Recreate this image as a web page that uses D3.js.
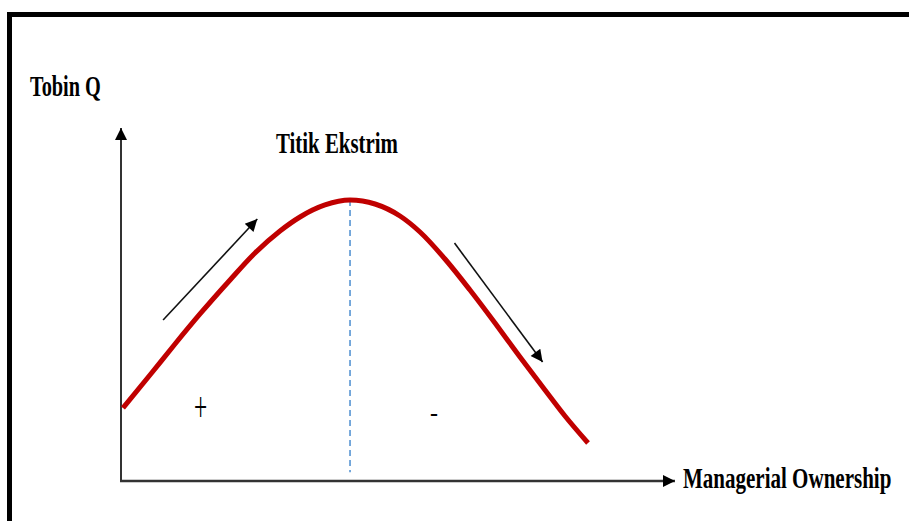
<!DOCTYPE html>
<html><head><meta charset="utf-8">
<script src="https://cdn.jsdelivr.net/npm/d3@7"></script>
<style>html,body{margin:0;padding:0;background:#fff;overflow:hidden}</style>
</head><body>
<svg id="chart" width="909" height="521"></svg>
<script>
// Managerial ownership (x, 0-100) vs Tobin Q (y, 0-100), conceptual curve
const ownership = [0.36, 5.23, 9.75, 14.26, 19.68, 24.19, 28.70, 32.31, 36.82, 41.34, 45.85, 50.36, 53.97, 58.48, 62.99, 67.51, 72.02, 76.53, 80.14, 84.30];
const tobinQ    = [20.68, 30.03, 38.81, 47.31, 56.94, 64.59, 70.82, 74.79, 78.19, 79.60, 78.47, 75.07, 70.54, 62.89, 54.11, 44.76, 35.13, 25.78, 18.41, 10.76];
const peakX = 41.34, peakY = 79.6;
const upArrow = [[7.6, 45.6], [24.6, 74.2]];
const downArrow = [[60.2, 67.4], [76.1, 33.7]];
const labels = {y: "Tobin Q", x: "Managerial Ownership", peak: "Titik Ekstrim", plus: "+", minus: "-"};

const svg = d3.select("#chart");
const x = d3.scaleLinear().domain([0, 100]).range([121, 675]);
const y = d3.scaleLinear().domain([0, 100]).range([481, 128]);

// frame
svg.append("rect").attr("x", 7).attr("y", 12).attr("width", 902).attr("height", 5).attr("fill", "#000");
svg.append("rect").attr("x", 7).attr("y", 12).attr("width", 5).attr("height", 509).attr("fill", "#000");

const defs = svg.append("defs");
defs.append("marker").attr("id", "ah").attr("viewBox", "0 0 10 10").attr("refX", 10).attr("refY", 5)
  .attr("markerWidth", 14).attr("markerHeight", 12).attr("markerUnits", "userSpaceOnUse").attr("orient", "auto")
  .append("path").attr("d", "M0,0 L10,5 L0,10 Z").attr("fill", "#000");
defs.append("marker").attr("id", "ax").attr("viewBox", "0 0 10 10").attr("refX", 10).attr("refY", 5)
  .attr("markerWidth", 15).attr("markerHeight", 12).attr("markerUnits", "userSpaceOnUse").attr("orient", "auto")
  .append("path").attr("d", "M0,0 L10,5 L0,10 Z").attr("fill", "#000");

// axes
svg.append("line").attr("x1", x(0)).attr("y1", y(0)).attr("x2", x(0)).attr("y2", y(100))
  .attr("stroke", "#333").attr("stroke-width", 2).attr("marker-end", "url(#ax)");
svg.append("line").attr("x1", x(0) - 1).attr("y1", y(0)).attr("x2", x(100)).attr("y2", y(0))
  .attr("stroke", "#333").attr("stroke-width", 2.5).attr("marker-end", "url(#ax)");

// dashed peak line
svg.append("line").attr("x1", x(peakX)).attr("y1", y(peakY)).attr("x2", x(peakX)).attr("y2", y(2.5))
  .attr("stroke", "#2f7bc8").attr("stroke-width", 1.3).attr("stroke-dasharray", "6,4");

// curve
const pts = ownership.map((d, i) => [d, tobinQ[i]]);
svg.append("path").datum(pts)
  .attr("d", d3.line().x(d => x(d[0])).y(d => y(d[1])).curve(d3.curveMonotoneX))
  .attr("fill", "none").attr("stroke", "#c00000").attr("stroke-width", 5).attr("stroke-linecap", "butt");

// direction arrows
[upArrow, downArrow].forEach(a => {
  svg.append("line").attr("x1", x(a[0][0])).attr("y1", y(a[0][1])).attr("x2", x(a[1][0])).attr("y2", y(a[1][1]))
    .attr("stroke", "#111").attr("stroke-width", 1.6).attr("marker-end", "url(#ah)");
});

// texts (condensed horizontally like the reference)
const font = "'Liberation Serif','Times New Roman',serif";
function txt(s, px, py, sx, sy, size, weight) {
  return svg.append("text").attr("transform", `translate(${px},${py}) scale(${sx},${sy})`).text(s)
    .attr("font-family", font).attr("font-size", size).attr("font-weight", weight).attr("fill", "#000");
}
txt(labels.y, 30, 96, 0.70, 1, 29, "bold");
txt(labels.peak, 276, 153, 0.72, 1, 29, "bold");
txt(labels.x, 683, 488, 0.725, 1, 29, "bold");
txt(labels.plus, 194, 421, 0.9, 1.6, 26, "normal");
txt(labels.minus, 430, 421, 1.0, 1, 24, "bold");
</script>
</body></html>
